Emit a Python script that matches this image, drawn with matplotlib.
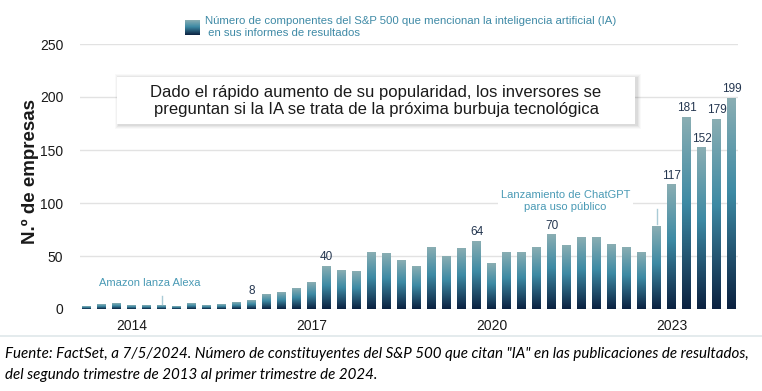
import numpy as np
import matplotlib
matplotlib.use("Agg")
import matplotlib.pyplot as plt
from matplotlib.colors import LinearSegmentedColormap
from matplotlib.patches import Rectangle

plt.rcParams['font.family'] = ['Liberation Sans', 'DejaVu Sans']

# quarterly counts, Q2 2013 .. Q1 2024
counts = [2, 4, 5, 3, 3, 3, 2, 5, 3, 4, 6, 8,
          14, 16, 19, 25, 40, 36, 35, 53, 52, 46, 40, 58,
          50, 57, 64, 43, 53, 53, 58, 70, 60, 67, 67, 61,
          58, 53, 78, 117, 181, 152, 179, 199]
year_pos = [3, 15, 27, 39]
year_labels = ['2014', '2017', '2020', '2023']
labeled = [11, 16, 26, 31, 39, 40, 41, 42, 43]
yticks = [0, 50, 100, 150, 200, 250]

W, H = 762, 391
fig = plt.figure(figsize=(W / 100, H / 100), dpi=100)
ax = fig.add_axes([80 / W, 1 - 309 / H, (738 - 80) / W, (309 - 44) / H])

grad = LinearSegmentedColormap.from_list(
    'g', [(0, '#0b2140'), (0.55, '#3d8aa4'), (1, '#8aaeb3')])
x = np.arange(len(counts))
bars = ax.bar(x, counts, width=0.6, color='none', zorder=2)
g = np.linspace(0, 1, 256).reshape(-1, 1)
for b in bars:
    x0, y0 = b.get_x(), b.get_y()
    ax.imshow(g, cmap=grad, origin='lower', aspect='auto', zorder=2,
              extent=(x0, x0 + b.get_width(), y0, y0 + b.get_height()))

ax.set_xlim(-0.45, len(counts) - 0.58)
ax.set_ylim(0, 250)
ax.set_yticks(yticks)
ax.yaxis.grid(True, color='#e2e2e2', lw=1, zorder=0)
ax.set_axisbelow(True)
for s in ax.spines.values():
    s.set_visible(False)
ax.tick_params(length=0, labelsize=10, colors='#1a1a1a')
ax.tick_params(axis='y', pad=12)
ax.tick_params(axis='x', pad=7)
ax.set_xticks(year_pos)
ax.set_xticklabels(year_labels)

for i in labeled:
    ax.text(i, counts[i] + 3, str(counts[i]), ha='center', va='bottom',
            fontsize=8.5, color='#243650', zorder=4)

# events
ax.plot([5, 5], [5, 12], color='#a9cbd6', lw=1, zorder=3)
ax.text(4.2, 25, 'Amazon lanza Alexa', ha='center', va='center',
        fontsize=8, color='#4a9ab5')
ax.plot([38, 38], [80, 94], color='#a9cbd6', lw=1, zorder=3)
ax.text(31.9, 102, 'Lanzamiento de ChatGPT\npara uso público', ha='center',
        va='center', fontsize=8, color='#4a9ab5', linespacing=1.2,
        bbox=dict(fc='white', ec='none', pad=2), zorder=3)

fig.text(30 / W, 1 - 172 / H, 'N.º de empresas', rotation=90, ha='center',
         va='center', fontsize=13.5, fontweight='bold', color='#1a1a1a')

# legend
lax = fig.add_axes([185 / W, 1 - 35 / H, 15 / W, 15 / H])
lax.imshow(g, cmap=grad, origin='lower', aspect='auto')
lax.axis('off')
fig.text(205 / W, 1 - 27.5 / H,
         'Número de componentes del S&P 500 que mencionan la inteligencia artificial (IA)\n en sus informes de resultados',
         ha='left', va='center', fontsize=8.2, color='#3f8aa6', linespacing=1.25)

# callout box with soft shadow
bx0, by0, bx1, by1 = 117, 77, 635, 124
for k, a in [(4, 0.025), (3, 0.03), (2, 0.04), (1, 0.05)]:
    fig.patches.append(Rectangle(((bx0 - k + 2) / W, 1 - (by1 + k + 1) / H),
                                 (bx1 - bx0 + 2 * k) / W, (by1 - by0 + 2 * k) / H,
                                 transform=fig.transFigure, fc='black', alpha=a,
                                 ec='none', zorder=4))
fig.patches.append(Rectangle((bx0 / W, 1 - by1 / H), (bx1 - bx0) / W,
                             (by1 - by0) / H, transform=fig.transFigure,
                             fc='white', ec='none', zorder=5))
fig.text((bx0 + bx1) / 2 / W, 1 - 101 / H,
         'Dado el rápido aumento de su popularidad, los inversores se\npreguntan si la IA se trata de la próxima burbuja tecnológica',
         ha='center', va='center', fontsize=12, color='#1a1a1a',
         linespacing=1.15, zorder=6)

fig.add_artist(plt.Line2D([0, 1], [1 - 336 / H] * 2, color='#dfe7ea', lw=1.2))
fig.text(5 / W, 1 - 354 / H,
         'Fuente: FactSet, a 7/5/2024. Número de constituyentes del S&P 500 que citan "IA" en las publicaciones de resultados,',
         ha='left', va='center', fontsize=10.9, style='italic', family='Lato')
fig.text(5 / W, 1 - 375 / H,
         'del segundo trimestre de 2013 al primer trimestre de 2024.',
         ha='left', va='center', fontsize=10.9, style='italic', family='Lato')

fig.savefig('out.png', dpi=100)
